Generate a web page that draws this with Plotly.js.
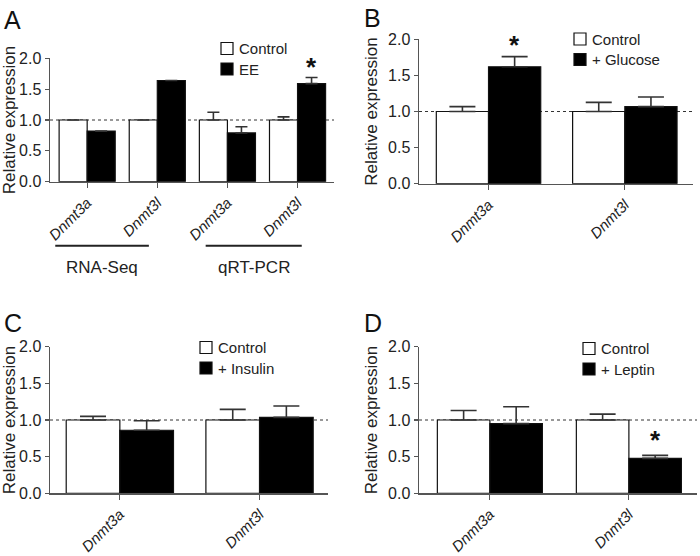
<!DOCTYPE html>
<html>
<head>
<meta charset="utf-8">
<script src="https://cdn.plot.ly/plotly-3.0.1.min.js"></script>
<style>html,body{margin:0;padding:0;background:#fff;}#chart{width:700px;height:556px;}</style>
</head>
<body>
<div id="chart"></div>
<script>
// ---- data ----
const genesA = ['Dnmt3a', 'Dnmt3l', 'Dnmt3a', 'Dnmt3l'];
const groupLabelsA = ['RNA-Seq', 'qRT-PCR'];
const controlA = [1, 1, 1, 1];
const controlErrA = [NaN, NaN, 0.125, 0.05];
const eeA = [0.82, 1.64, 0.79, 1.59];
const eeErrA = [NaN, NaN, 0.10, 0.10];

const genes = ['Dnmt3a', 'Dnmt3l'];
const controlB = [1, 1];
const controlErrB = [0.067, 0.127];
const glucoseB = [1.62, 1.067];
const glucoseErrB = [0.14, 0.133];

const controlC = [1, 1];
const controlErrC = [0.05, 0.145];
const insulinC = [0.86, 1.036];
const insulinErrC = [0.13, 0.155];

const controlD = [1, 1];
const controlErrD = [0.13, 0.08];
const leptinD = [0.95, 0.477];
const leptinErrD = [0.23, 0.04];

const yTicks = [0, 0.5, 1.0, 1.5, 2.0];
const panelLetters = ['A', 'B', 'C', 'D'];
const legendNames = [['Control', 'EE'], ['Control', '+ Glucose'], ['Control', '+ Insulin'], ['Control', '+ Leptin']];
const significant = [[3], [0], [], [1]];

// ---- layout config ----
const W = 700, H = 556;
const FONT = '"Liberation Sans", Arial, Helvetica, sans-serif';
const px = v => v / W;
const py = v => 1 - v / H;

const panels = [
  {ctrl: controlA, ctrlErr: controlErrA, trt: eeA, trtErr: eeErrA, labels: genesA,
   xd: [50, 334], yd: [181.7, 58.3], xr: [-0.53, 3.52], bw: 0.4, cap: 6,
   letter: [2, 4], leg: [221, 42.5], astY: 1.86},
  {ctrl: controlB, ctrlErr: controlErrB, trt: glucoseB, trtErr: glucoseErrB, labels: genes,
   xd: [419, 693], yd: [183.7, 39.3], xr: [-0.51, 1.5], bw: 0.383, cap: 13,
   letter: [362, 2], leg: [574, 33], astY: 1.92},
  {ctrl: controlC, ctrlErr: controlErrC, trt: insulinC, trtErr: insulinErrC, labels: genes,
   xd: [50, 328], yd: [493.3, 346.7], xr: [-0.5, 1.49], bw: 0.384, cap: 13,
   letter: [2, 307], leg: [200, 341.5], astY: 0},
  {ctrl: controlD, ctrlErr: controlErrD, trt: leptinD, trtErr: leptinErrD, labels: genes,
   xd: [419, 697], yd: [493.3, 346.7], xr: [-0.51, 1.49], bw: 0.378, cap: 13,
   letter: [362, 307], leg: [583, 342.5], astY: 0.73}
];

const traces = [];
const layout = {
  width: W, height: H,
  margin: {l: 0, r: 0, t: 0, b: 0},
  paper_bgcolor: '#fff', plot_bgcolor: 'rgba(0,0,0,0)',
  showlegend: false,
  barmode: 'overlay',
  font: {family: FONT, color: '#222'},
  shapes: [], annotations: []
};

panels.forEach((p, i) => {
  const n = i + 1;
  const xk = 'x' + (n === 1 ? '' : n), yk = 'y' + (n === 1 ? '' : n);
  const xa = 'xaxis' + (n === 1 ? '' : n), ya = 'yaxis' + (n === 1 ? '' : n);
  const xs = p.labels.map((_, j) => j);
  const errStyle = {color: '#333', thickness: 1.6, width: p.cap};
  traces.push({
    type: 'bar', x: xs, y: p.ctrl, xaxis: xk, yaxis: yk, name: legendNames[i][0],
    width: p.bw, offset: -p.bw,
    marker: {color: '#fff', line: {color: '#111', width: 1.2}},
    error_y: Object.assign({type: 'data', symmetric: false, array: p.ctrlErr, arrayminus: p.ctrl.map(() => 0)}, errStyle),
    hoverinfo: 'skip'
  });
  traces.push({
    type: 'bar', x: xs, y: p.trt, xaxis: xk, yaxis: yk, name: legendNames[i][1],
    width: p.bw, offset: 0,
    marker: {color: '#000', line: {color: '#111', width: 1.2}},
    error_y: Object.assign({type: 'data', symmetric: false, array: p.trtErr, arrayminus: p.trt.map(() => 0)}, errStyle),
    hoverinfo: 'skip'
  });
  layout[xa] = {
    domain: [px(p.xd[0]), px(p.xd[1])], range: p.xr, anchor: yk,
    showline: true, linecolor: '#555', linewidth: 1.5, showgrid: false, zeroline: false,
    ticks: 'outside', ticklen: 5, tickcolor: '#555', tickwidth: 1.2,
    tickvals: xs, ticktext: p.labels, tickangle: -45,
    tickfont: {family: FONT, size: 15, color: '#222', style: 'italic'},
    fixedrange: true
  };
  layout[ya] = {
    domain: [py(p.yd[0]), py(p.yd[1])], range: [0, 2], anchor: xk,
    showline: true, linecolor: '#555', linewidth: 1.5, showgrid: false, zeroline: false,
    ticks: 'outside', ticklen: 4, tickcolor: '#555', tickwidth: 1.2,
    tickvals: yTicks, tickformat: '.1f',
    tickfont: {family: FONT, size: 16, color: '#222'},
    title: {text: 'Relative expression', font: {family: FONT, size: 17, color: '#222'}, standoff: 6},
    fixedrange: true
  };
  // dotted reference line at 1.0
  layout.shapes.push({type: 'line', xref: xk + ' domain', yref: yk, x0: 0, x1: 1, y0: 1, y1: 1,
    line: {color: '#333', width: 1, dash: 'dot'}, layer: 'below'});
  // panel letter
  layout.annotations.push({text: panelLetters[i], xref: 'paper', yref: 'paper',
    x: px(p.letter[0]), y: py(p.letter[1]), xanchor: 'left', yanchor: 'top', showarrow: false,
    font: {family: FONT, size: 25, color: '#111'}});
  // legend (drawn manually)
  const lx = p.leg[0], ly = p.leg[1];
  [0, 1].forEach(k => {
    const top = ly + k * 20.5;
    layout.shapes.push({type: 'rect', xref: 'paper', yref: 'paper',
      x0: px(lx), x1: px(lx + 12), y0: py(top), y1: py(top + 12),
      fillcolor: k === 0 ? '#fff' : '#000', line: {color: '#111', width: 1.2}});
    layout.annotations.push({text: legendNames[i][k], xref: 'paper', yref: 'paper',
      x: px(lx + 16), y: py(top + 6), xanchor: 'left', yanchor: 'middle', showarrow: false,
      font: {family: FONT, size: 15, color: '#222'}});
  });
  // significance asterisks
  significant[i].forEach(j => {
    layout.annotations.push({text: '<b>*</b>', xref: xk, yref: yk, x: j + p.bw / 2, y: p.astY,
      xanchor: 'center', yanchor: 'middle', showarrow: false,
      font: {family: FONT, size: 26, color: '#111'}});
  });
});

// group brackets under panel A
const groupSpans = [[-0.455, 0.88], [1.69, 3.06]];
groupLabelsA.forEach((g, k) => {
  const s = groupSpans[k];
  layout.shapes.push({type: 'line', xref: 'x', yref: 'paper', x0: s[0], x1: s[1],
    y0: py(245.7), y1: py(245.7), line: {color: '#222', width: 2}});
  layout.annotations.push({text: g, xref: 'x', yref: 'paper', x: (s[0] + s[1]) / 2, y: py(267),
    xanchor: 'center', yanchor: 'middle', showarrow: false,
    font: {family: FONT, size: 17, color: '#222'}});
});

Plotly.newPlot('chart', traces, layout, {staticPlot: true, displayModeBar: false});
</script>
</body>
</html>
